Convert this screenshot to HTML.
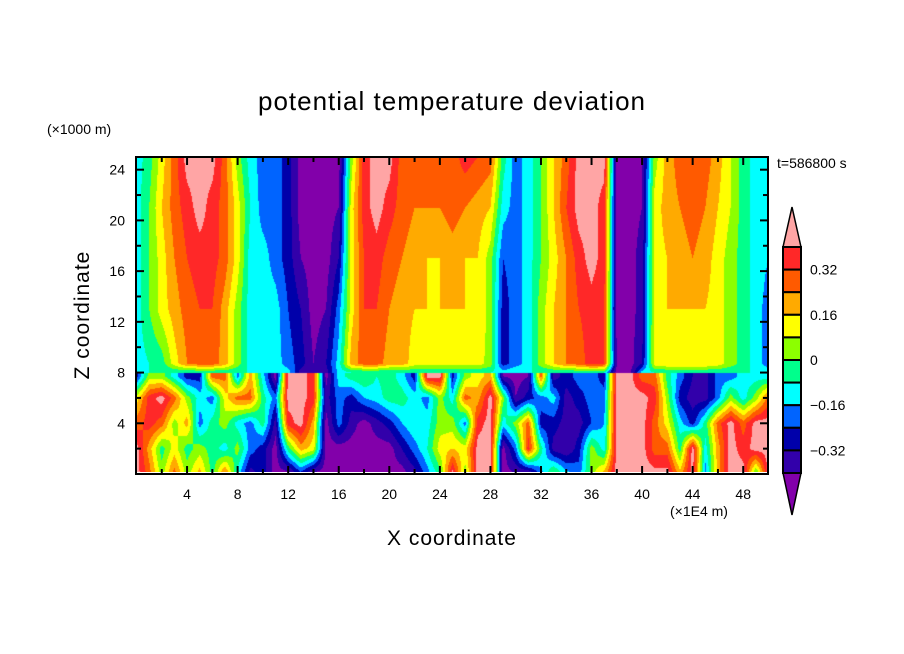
<!DOCTYPE html>
<html><head><meta charset="utf-8">
<style>
html,body{margin:0;padding:0;background:#fff;}
#wrap{position:relative;width:904px;height:654px;overflow:hidden;background:#fff;font-family:"Liberation Sans",sans-serif;}
.t{position:absolute;white-space:nowrap;color:#000;}
canvas{position:absolute;left:136px;top:157px;}
svg{position:absolute;left:0;top:0;}
</style></head>
<body>
<div id="wrap">
<div class="t" style="left:0;width:904px;text-align:center;top:86px;font-size:26px;letter-spacing:1px;">potential temperature deviation</div>
<div class="t" style="left:47px;top:121px;font-size:14px;">(×1000 m)</div>
<div class="t" style="left:777px;top:155px;font-size:14px;">t=586800 s</div>
<div class="t" style="left:670px;top:503px;font-size:14px;">(×1E4 m)</div>
<div class="t" style="left:0;width:904px;text-align:center;top:527px;font-size:21px;letter-spacing:1px;">X coordinate</div>
<div class="t" style="left:83px;top:315px;font-size:21px;letter-spacing:1px;transform:translate(-50%,-50%) rotate(-90deg);">Z coordinate</div>
<canvas id="cv" width="632" height="315"></canvas>
<svg id="sv" width="904" height="654"></svg>
</div>
<script>
// contour level index data (value = LEVEL_BASE + k*LEVEL_STEP, in K)
const xCoords = [0,1,2,3,4,5,6,7,8,9,10,11,12,13,14,15,16,17,18,19,20,21,22,23,24,25,26,27,28,29,30,31,32,33,34,35,36,37,38,39,40,41,42,43,44,45,46,47,48,49,50];
const upperZ = [25,21,17,13,8.7,8.0];
const lowerZ = [7.7,6,4,2,0];
const top25 = [4,5,7,9,11,11,11,9,6,4,3,3,2,0,0,0,0,6,10,11,11,9,9,9,9,9,10,9.5,9,5,3,4,5.5,7.5,9,11,11,11,0,0,0.5,6,8,9,9.5,9,8,6.5,5,4,4];
const top21 = [4,5.5,7.5,9,10,11,10,9,7,4.5,3,3,2,0,0,0,0.5,7,10,11,10,9,8.5,8.5,8.5,9,8.5,8,7.5,4,3,4,5.5,7.5,9.5,11,11,10,0,0,0.5,7,8,8.5,9,8.5,7.5,6.5,5,4,4];
const top17 = [4,5.5,7,8.5,9.5,10,10,9,7,4,4,3,2,0.5,0,0,1.5,7,9.5,10,9,8.5,8,7.5,7.5,8,7.5,7.5,6,2.5,3,4,5.5,7,8.5,10,11,10,0,0,1,7,7.5,8,8.5,8,7,6,5,4,3.5];
const top13 = [4,5.5,7,8,9,9.5,9.5,8,6,4,4,4,2.5,1.5,0,0.5,3,7,9.5,9.5,8.5,8,7.5,7.5,7.5,7.5,7.5,7.5,6,2,3,4,6,7.5,8.5,9.5,10,9.5,0,0,1,7,7.5,7.5,7.5,7.5,7,6,5,4,3];
const top9 = [4,4.5,5,7,8.5,9,9,8,6,4,4,4,3,2,0.5,1.5,4,8,9,9,8,8,7,7,7,7,7,7,6,2,3,4,6,7.5,8.5,9,10,9.5,0.5,0,1.5,7,7.5,7.5,7.5,7.5,7,6,5,4,3];
const top8 = [4.5,4.5,4.5,4.5,4.5,4.5,4.5,4.5,4.5,4.5,4.5,4.5,4,1,0.5,1,4,4.5,4.5,4.5,4.5,4.5,4.5,4.5,4.5,4.5,4.5,4.5,4.5,4,4.5,4.5,4.5,4.5,4.5,4.5,4.5,4.5,0,0,4,4.5,4.5,4.5,4.5,4.5,4.5,4.5,4.5,4.5,4];
const low7 = [2,6,6,4,2,2,9,9,3,8,4,0,11,11,10,0,4,5,5.5,4.5,5,4,2,11,11,2,6,7,8,0.5,0,0.5,9,1,2,3,3,2,11,11,9,9,5,3,1.5,1,3,3,4,4,4];
const low6 = [7,10,11,9,6,4,3,7,9,9,5,3,11,11,10,1,3,2,3.5,4,5,5,4,3,6,4,9,8,11,6,0.5,2,3,4,1,2,3,3,11,11,11,10,6,2,1,1,3,6,4,6,9];
const low4 = [9,10,9,6,8,3,5,6,4,3,5,1,10,11,8,0,3,1,0,1,2,3.5,4.5,4,6,6,3,10,11,4,6,9,2,2,1,1,2.5,3.5,11,11,11,9,7,4,2,5,9,11,9,11,11];
const low2 = [11,8,5,7,5,6,5,4,6,3,2,0,5,8,7,0,0,0,0,0,0,1.5,3,4.5,7,7.5,7,11,11,0,3,10,5,1,0.5,2,6,4,11,11,11,9,9,5,11,4,8,11,10,11,11];
const low0 = [11,9,6,9,6,8,5,9,4,1,2,0,0,2,0,0,0,0,0,0,0,0,1,3,5,11,6,11,11,0,0.5,0,3,6,4,3,6,8,11,11,11,11,11,8,11,3,8,11,11,5,11];
const levelColors = ['#8200aa','#3200aa','#0000aa','#0064ff','#00ffff','#00ff8c','#8cff00','#ffff00','#ffaa00','#ff5a00','#ff2828','#ffa5a5'];
const levelLabels = ['0.32','0.16','0','\u22120.16','\u22120.32'];
const xTickLabels = ['4','8','12','16','20','24','28','32','36','40','44','48'];
const yTickLabels = ['4','8','12','16','20','24'];
const LEVEL_BASE = -0.44, LEVEL_STEP = 0.08;

const PX0=136.5, PX1=768.5, PY0=474, PY1=157;
const xs = x => PX0 + (x/50)*(PX1-PX0);
const ys = z => PY0 - (z/25)*(PY0-PY1);
const xInv = px => (px-PX0)/(PX1-PX0)*50;
const zInv = py => (PY0-py)/(PY0-PY1)*25;

const upperRows=[top25,top21,top17,top13,top9,top8];
const lowerRows=[low7,low6,low4,low2,low0];
function sampleLayer(zArr, rows, x, z){
  let j=0; while(j<zArr.length-2 && z < zArr[j+1]) j++;
  let t=(zArr[j]-z)/(zArr[j]-zArr[j+1]); t=Math.max(0,Math.min(1,t));
  const n=xCoords.length-1;
  let fx=Math.max(0,Math.min(n-1e-6,x)); let i=Math.floor(fx); let u=fx-i;
  const a=rows[j][i]*(1-u)+rows[j][i+1]*u, b=rows[j+1][i]*(1-u)+rows[j+1][i+1]*u;
  return LEVEL_BASE + (a*(1-t)+b*t)*LEVEL_STEP;
}
function colorFor(v){
  let k=Math.floor((v+0.48)/LEVEL_STEP); k=Math.max(0,Math.min(11,k)); return k;
}
const cv=document.getElementById('cv'); const ctx=cv.getContext('2d');
const img=ctx.createImageData(632,315);
const rgb=levelColors.map(c=>[parseInt(c.substr(1,2),16),parseInt(c.substr(3,2),16),parseInt(c.substr(5,2),16)]);
for(let py=0;py<315;py++){
  const z=zInv(157+py+0.5);
  for(let px=0;px<632;px++){
    const x=xInv(136+px+0.5);
    const v = z>=8 ? sampleLayer(upperZ,upperRows,x,z) : sampleLayer(lowerZ,lowerRows,x,z);
    const c=rgb[colorFor(v)]; const o=(py*632+px)*4;
    img.data[o]=c[0];img.data[o+1]=c[1];img.data[o+2]=c[2];img.data[o+3]=255;
  }
}
ctx.putImageData(img,0,0);

const NS='http://www.w3.org/2000/svg'; const sv=document.getElementById('sv');
function mk(tag,attrs,parent){const e=document.createElementNS(NS,tag);for(const k in attrs)e.setAttribute(k,attrs[k]);(parent||sv).appendChild(e);return e;}
let e=mk('rect',{x:136,y:157,width:632,height:317,fill:'none',stroke:'#000','stroke-width':2});


for(let x=2;x<50;x+=2){
  const L = x%4===0?8:5;
  e=mk('line',{x1:xs(x),x2:xs(x),y1:474,y2:474-L,stroke:'#000','stroke-width':2});
  
  
  e=mk('line',{x1:xs(x),x2:xs(x),y1:157,y2:157+L,stroke:'#000','stroke-width':2});
  
  
}
for(let z=2;z<25;z+=2){
  const L = z%4===0?8:5;
  e=mk('line',{x1:136,x2:136+L,y1:ys(z),y2:ys(z),stroke:'#000','stroke-width':2});
  
  
  e=mk('line',{x1:768,x2:768-L,y1:ys(z),y2:ys(z),stroke:'#000','stroke-width':2});
  
  
}
xTickLabels.forEach(s=>{
  e=mk('text',{x:xs(+s),y:499,'text-anchor':'middle','font-size':14,'font-family':'Liberation Sans, sans-serif'});
  e.textContent=s;
  
  
});
yTickLabels.forEach(s=>{
  e=mk('text',{x:125,y:ys(+s)+5,'text-anchor':'end','font-size':14,'font-family':'Liberation Sans, sans-serif'});
  e.textContent=s;
  
  
});
// colorbar
const CB_X=783, CB_W=18, CB_TOP=247, CB_BOT=473, nBox=10, bh=(CB_BOT-CB_TOP)/nBox;
e=mk('polygon',{points:`${CB_X},${CB_TOP} ${CB_X+CB_W/2},207 ${CB_X+CB_W},${CB_TOP}`,fill:levelColors[11],stroke:'#000','stroke-width':1.5});


e=mk('polygon',{points:`${CB_X},${CB_BOT} ${CB_X+CB_W/2},515 ${CB_X+CB_W},${CB_BOT}`,fill:levelColors[0],stroke:'#000','stroke-width':1.5});


for(let b=0;b<nBox;b++){
  e=mk('rect',{x:CB_X,y:CB_TOP+b*bh,width:CB_W,height:bh,fill:levelColors[10-b],stroke:'#000','stroke-width':2});
  
  
}
levelLabels.forEach((s,i)=>{
  e=mk('text',{x:810,y:CB_TOP+(2*i+1)*bh+5,'font-size':14,'font-family':'Liberation Sans, sans-serif'});
  e.textContent=s;
  
  
});
</script>
</body></html>
